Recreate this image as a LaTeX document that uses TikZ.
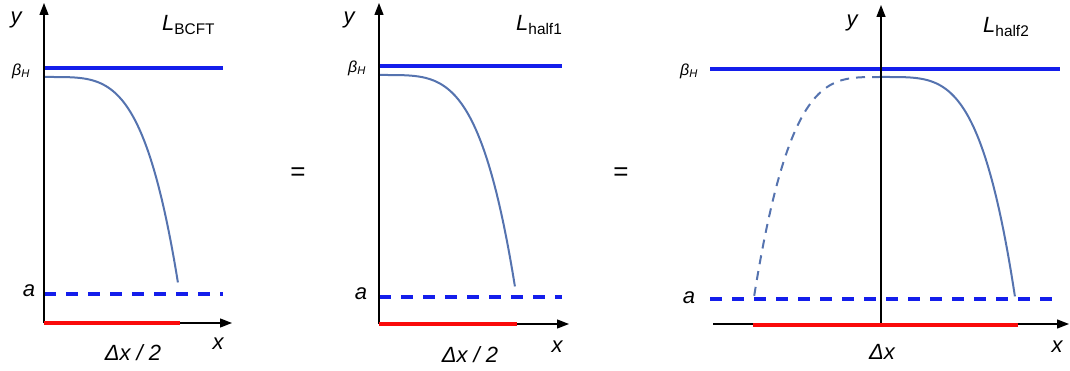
\documentclass[tikz,border=0pt]{standalone}
\usepackage{fontspec}
\setmainfont{Liberation Sans}
\usetikzlibrary{arrows.meta}
\definecolor{hblue}{RGB}{20,30,235}
\definecolor{cblue}{RGB}{85,115,175}
\definecolor{hred}{RGB}{250,10,10}
\tikzset{
  axis/.style={line width=1.3pt,-{Triangle[length=12pt,width=9pt]}},
  hline/.style={hblue,line width=4pt},
  aline/.style={hblue,line width=3.5pt,dash pattern=on 12pt off 10pt},
  redseg/.style={hred,line width=4.2pt},
  curve/.style={cblue,line width=2pt},
  dcurve/.style={cblue,line width=2pt,dash pattern=on 9pt off 7pt},
  lab/.style={font=\fontsize{22}{24}\selectfont\itshape,inner sep=0pt},
  beta/.style={font=\fontsize{16}{18}\selectfont\itshape,inner sep=0pt},
  eq/.style={font=\fontsize{26}{28}\selectfont,inner sep=0pt}
}
\newcommand{\Lsub}[1]{\textit{L}\textsubscript{\upshape #1}}
\begin{document}
\begin{tikzpicture}[x=1pt,y=-1pt]
\useasboundingbox (0,0) rectangle (1070,371);
% ---------- panel 1
\coordinate (o1) at (44,323);
\coordinate (yt1) at (44,3);
\coordinate (xt1) at (232,323);
\draw[hline] (44,68) -- (223,68);
\draw[aline] (44,294) -- (223,294);
\draw[curve] plot[domain=0:1,samples=60,smooth] ({45+133*\x},{77+206*(\x)^4});
\draw[axis] (o1) -- (xt1);
\draw[axis] (o1) -- (yt1);
\draw[redseg] (44,323) -- (180,323);
\node[lab] (y1) at (16,20) {y};
\node[lab] (x1) at (218,344) {x};
\node[lab] (a1) at (29,291) {a};
\node[beta] (b1) at (21,71) {β\textsubscript{H}};
\node[lab,anchor=west] (L1) at (162,25) {\Lsub{BCFT}};
\node[lab] (d1) at (133,353) {Δx / 2};
\node[eq] (e1) at (298,174) {=};
% ---------- panel 2
\coordinate (o2) at (379,324);
\coordinate (yt2) at (379,3);
\coordinate (xt2) at (569,324);
\draw[hline] (379,66) -- (562,66);
\draw[aline] (379,297) -- (562,297);
\draw[curve] plot[domain=0:1,samples=60,smooth] ({379+136*\x},{75+212*(\x)^4});
\draw[axis] (o2) -- (xt2);
\draw[axis] (o2) -- (yt2);
\draw[redseg] (379,324) -- (517,324);
\node[lab] (y2) at (349,20) {y};
\node[lab] (x2) at (557,347) {x};
\node[lab] (a2) at (361,294) {a};
\node[beta] (b2) at (357,68) {β\textsubscript{H}};
\node[lab,anchor=west] (L2) at (516,25) {\Lsub{half1}};
\node[lab] (d2) at (470,355) {Δx / 2};
\node[eq] (e2) at (621,174) {=};
% ---------- panel 3
\coordinate (o3) at (881,324);
\coordinate (yt3) at (881,5);
\coordinate (xl3) at (713,324);
\coordinate (xt3) at (1069,324);
\draw[hline] (710,69) -- (1060,69);
\draw[aline] (710,299) -- (1060,299);
\draw[curve] plot[domain=0:1,samples=60,smooth] ({881+134*\x},{77+220*(\x)^4});
\draw[dcurve] plot[domain=0:1,samples=60,smooth] ({881-127*\x},{77+220*(\x)^3.6});
\draw[axis] (xl3) -- (xt3);
\draw[axis] (o3) -- (yt3);
\draw[redseg] (753,325) -- (1018,325);
\node[lab] (y3) at (852,23) {y};
\node[lab] (x3) at (1057,347) {x};
\node[lab] (a3) at (689,298) {a};
\node[beta] (b3) at (689,71) {β\textsubscript{H}};
\node[lab,anchor=west] (L3) at (983,27) {\Lsub{half2}};
\node[lab] (d3) at (882,352) {Δx};
\end{tikzpicture}
\end{document}
